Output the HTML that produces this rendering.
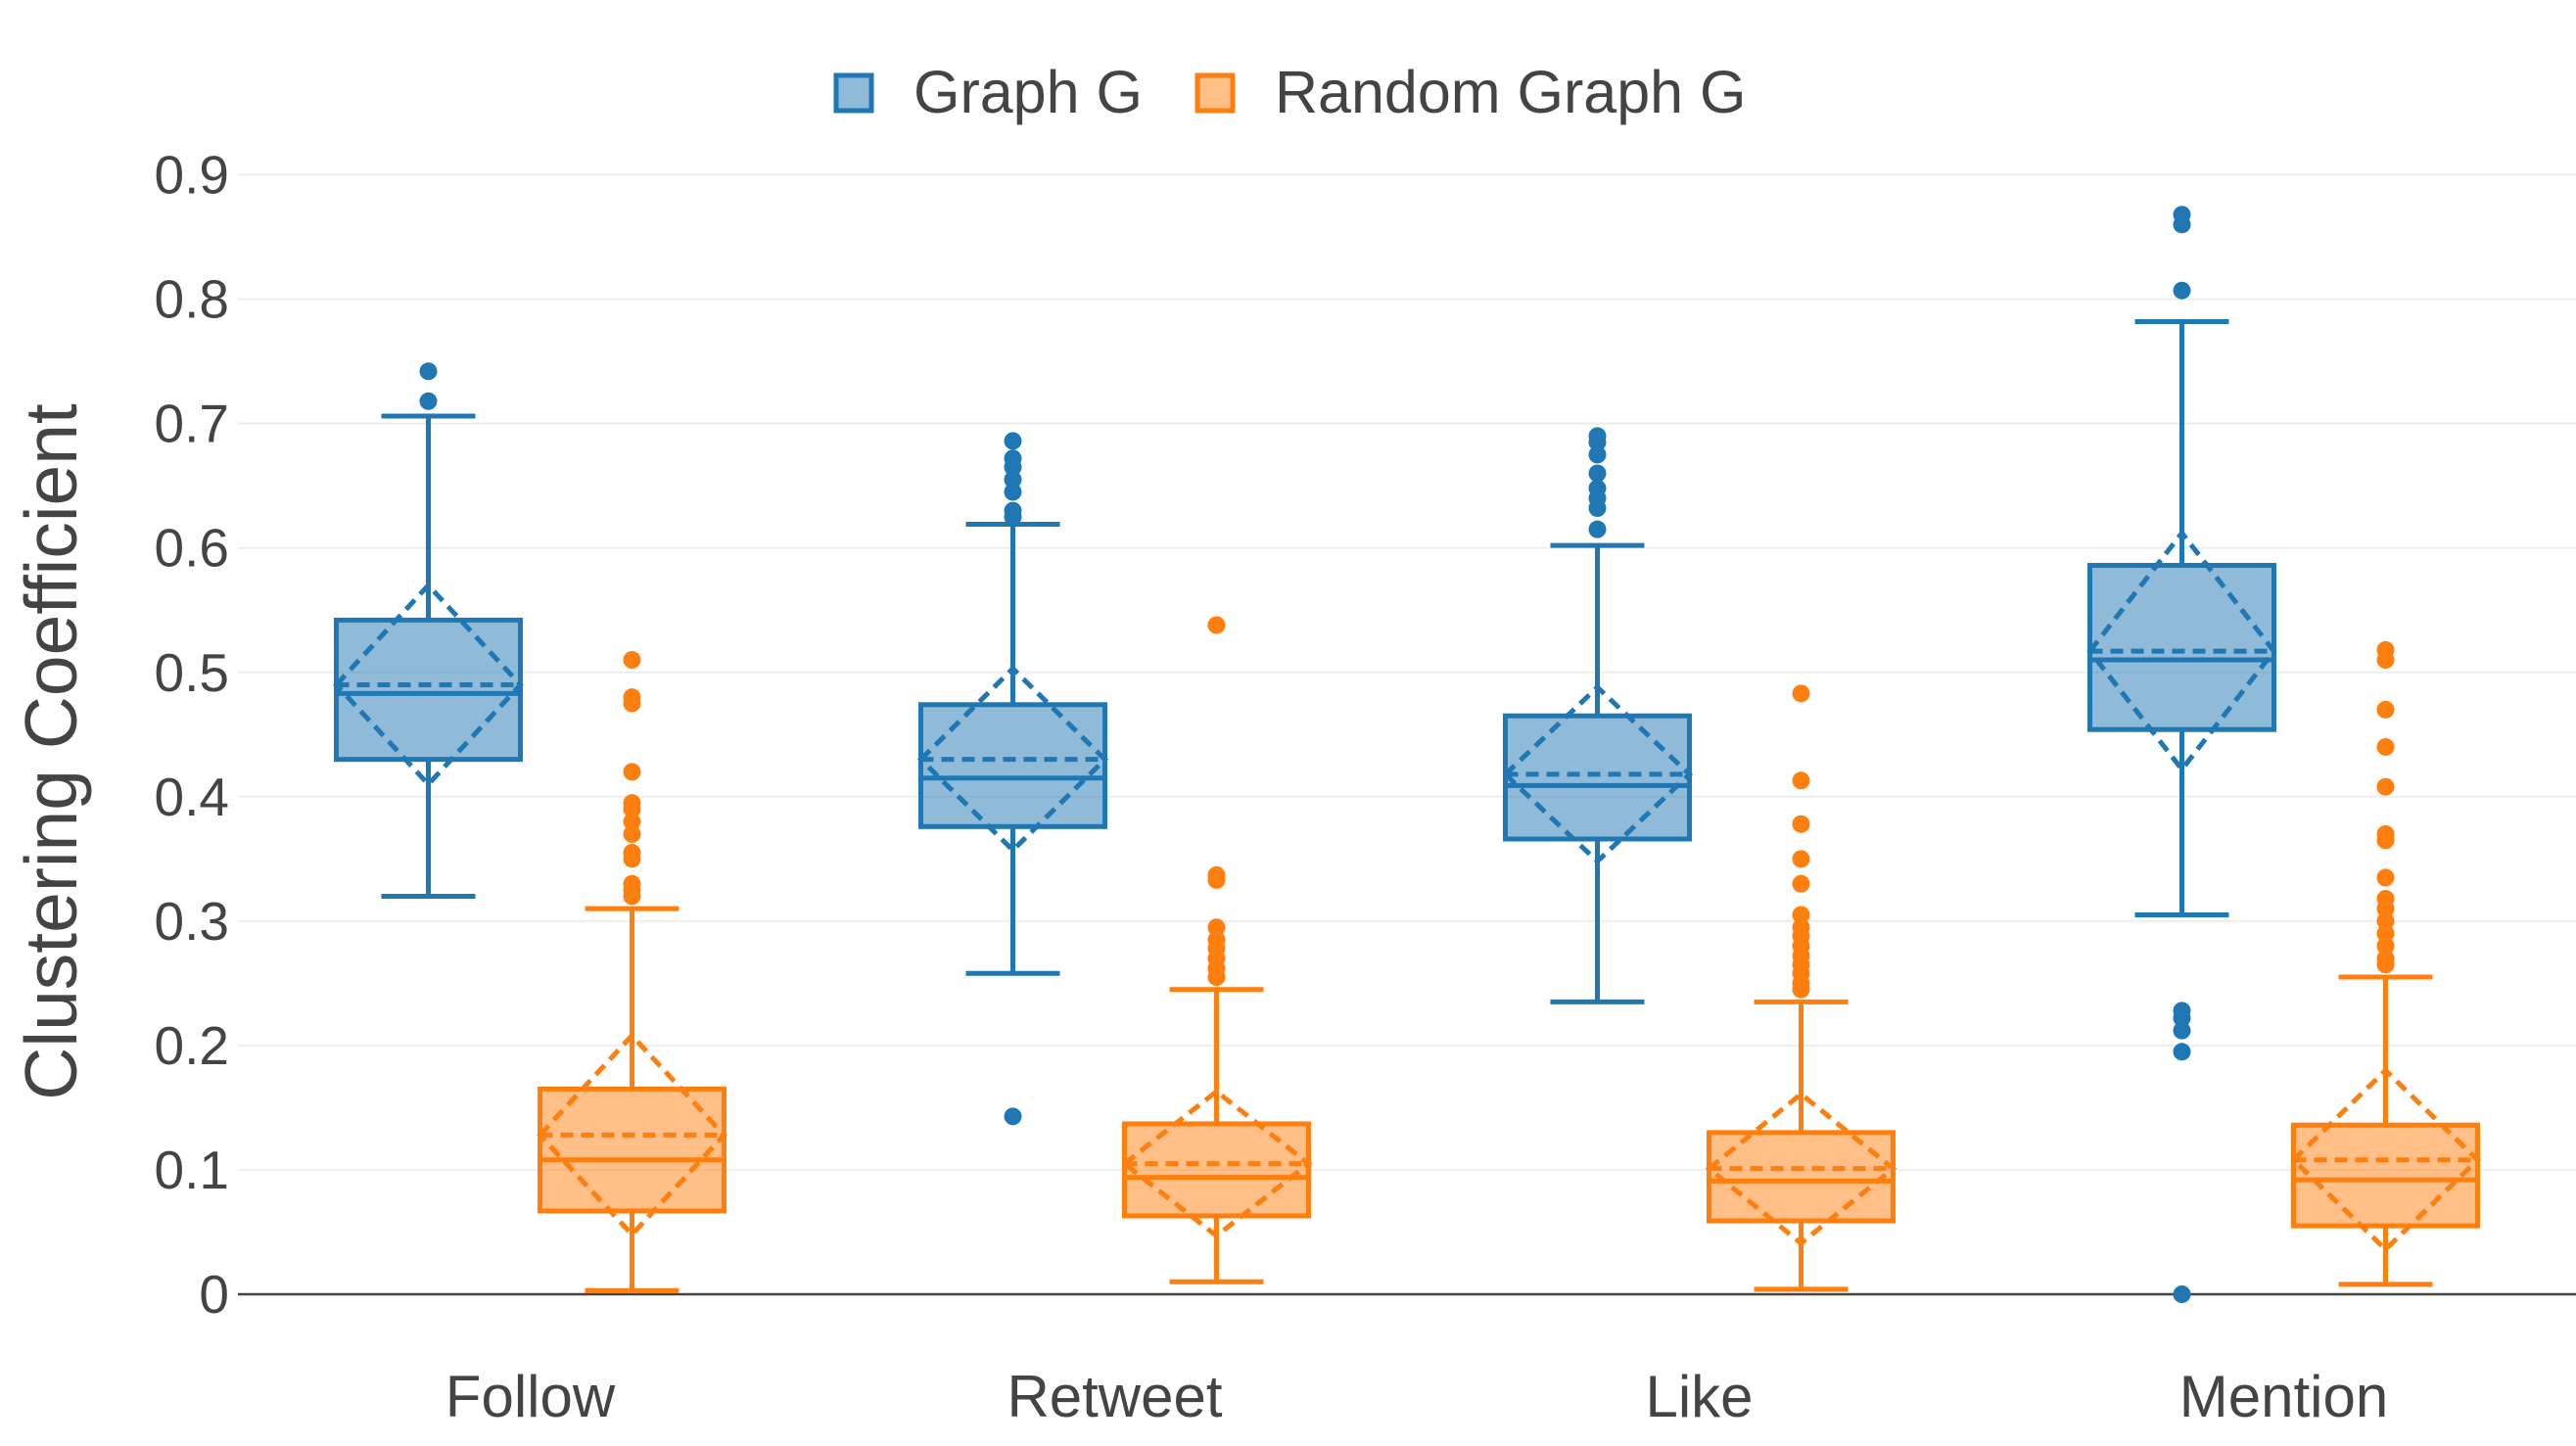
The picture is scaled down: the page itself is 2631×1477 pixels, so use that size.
<!DOCTYPE html>
<html><head><meta charset="utf-8"><style>
html,body{margin:0;padding:0;background:#fff;}
svg{display:block;font-family:"Liberation Sans",sans-serif;}
</style></head><body>
<svg id="chart" width="2631" height="1477" viewBox="0 0 2631 1477">
<g id="grid"></g>
<g id="yticks"></g>
<g id="xticks"></g>
<g id="boxes"></g>
<text x="78" y="768" font-size="75" fill="#444" text-anchor="middle" transform="rotate(-90 78 768)">Clustering Coefficient</text>
<g>
<g>
<rect x="854" y="77" width="36" height="36" fill="rgba(31,119,180,0.5)" stroke="#1f77b4" stroke-width="5"/>
<text x="933" y="115" font-size="61" fill="#444">Graph G</text></g>
<g>
<rect x="1223" y="77" width="36" height="36" fill="rgba(255,127,14,0.5)" stroke="#ff7f0e" stroke-width="5"/>
<text x="1302" y="115" font-size="61" fill="#444">Random Graph G</text></g>
</g>
</svg>
<script>
const categories=["Follow","Retweet","Like","Mention"];
const yTicks=[0,0.1,0.2,0.3,0.4,0.5,0.6,0.7,0.8,0.9];
const yTickLabels=["0","0.1","0.2","0.3","0.4","0.5","0.6","0.7","0.8","0.9"];
// [lowWhisker,q1,median,q3,highWhisker,mean,sd]
const graphStats=[[0.32,0.43,0.483,0.542,0.706,0.49,0.08],[0.258,0.376,0.415,0.474,0.619,0.43,0.073],[0.235,0.366,0.409,0.465,0.602,0.418,0.07],[0.305,0.454,0.51,0.586,0.782,0.517,0.095]];
const randomStats=[[0.003,0.067,0.108,0.165,0.31,0.128,0.08],[0.01,0.063,0.094,0.137,0.245,0.105,0.058],[0.004,0.059,0.091,0.13,0.235,0.101,0.06],[0.008,0.055,0.092,0.136,0.255,0.108,0.072]];
const graphOutliers=[[0.718,0.742],[0.143,0.625,0.63,0.645,0.655,0.665,0.672,0.686],[0.615,0.632,0.64,0.648,0.66,0.675,0.685,0.69],[0,0.195,0.212,0.222,0.228,0.807,0.86,0.868]];
const randomOutliers=[[0.32,0.325,0.33,0.35,0.355,0.37,0.38,0.39,0.395,0.42,0.475,0.48,0.51],[0.255,0.262,0.27,0.278,0.285,0.295,0.333,0.337,0.538],[0.245,0.25,0.258,0.265,0.272,0.28,0.288,0.295,0.305,0.33,0.35,0.378,0.413,0.483],[0.265,0.27,0.28,0.29,0.3,0.31,0.318,0.335,0.365,0.37,0.408,0.44,0.47,0.51,0.518]];
const NS="http://www.w3.org/2000/svg";
const X0=243,BAND=597,Y0=1322,PER=1270.5;
const y=v=>Y0-v*PER;
const xc=i=>X0+BAND*(i+0.5);
function mk(tag,attrs,parent){const e=document.createElementNS(NS,tag);for(const k in attrs)e.setAttribute(k,attrs[k]);parent.appendChild(e);return e;}
const grid=document.getElementById('grid'),yt=document.getElementById('yticks'),xt=document.getElementById('xticks'),bx=document.getElementById('boxes');
yTicks.forEach((t,i)=>{
 const l=mk('line',{x1:X0,x2:2631,y1:y(t),y2:y(t),stroke:t===0?'#444':'#eee','stroke-width':t===0?2.5:2},grid);
 
 
 const tx=mk('text',{x:234,y:y(t)+19,'font-size':55,fill:'#444','text-anchor':'end'},yt);
 tx.textContent=yTickLabels[i];
 
 
});
categories.forEach((c,i)=>{
 const tx=mk('text',{x:xc(i),y:1447,'font-size':60,fill:'#444','text-anchor':'middle'},xt);
 tx.textContent=c;
 
 
});
function drawBox(s,outs,cx,col,fill,name){
 const g=mk('g',{},bx);
 
 
 const hw=94,cw=48,sw=5;
 mk('line',{x1:cx,x2:cx,y1:y(s[0]),y2:y(s[1]),stroke:col,'stroke-width':sw},g);
 mk('line',{x1:cx,x2:cx,y1:y(s[3]),y2:y(s[4]),stroke:col,'stroke-width':sw},g);
 mk('line',{x1:cx-cw,x2:cx+cw,y1:y(s[0]),y2:y(s[0]),stroke:col,'stroke-width':sw},g);
 mk('line',{x1:cx-cw,x2:cx+cw,y1:y(s[4]),y2:y(s[4]),stroke:col,'stroke-width':sw},g);
 mk('rect',{x:cx-hw,y:y(s[3]),width:2*hw,height:y(s[1])-y(s[3]),fill:fill,stroke:col,'stroke-width':sw},g);
 mk('line',{x1:cx-hw,x2:cx+hw,y1:y(s[2]),y2:y(s[2]),stroke:col,'stroke-width':sw},g);
 mk('polygon',{points:`${cx-hw},${y(s[5])} ${cx},${y(s[5]+s[6])} ${cx+hw},${y(s[5])} ${cx},${y(s[5]-s[6])}`,fill:'none',stroke:col,'stroke-width':5,'stroke-dasharray':'13,8'},g);
 mk('line',{x1:cx-hw,x2:cx+hw,y1:y(s[5]),y2:y(s[5]),stroke:col,'stroke-width':5,'stroke-dasharray':'13,8'},g);
 outs.forEach(v=>{
  const p=mk('circle',{cx:cx,cy:y(v),r:9,fill:col},g);
  
  
 });
}
categories.forEach((c,i)=>{
 drawBox(graphStats[i],graphOutliers[i],xc(i)-104,'#1f77b4','rgba(31,119,180,0.5)','box-graph-'+c.toLowerCase());
 drawBox(randomStats[i],randomOutliers[i],xc(i)+104,'#ff7f0e','rgba(255,127,14,0.5)','box-random-'+c.toLowerCase());
});
</script>
</body></html>
